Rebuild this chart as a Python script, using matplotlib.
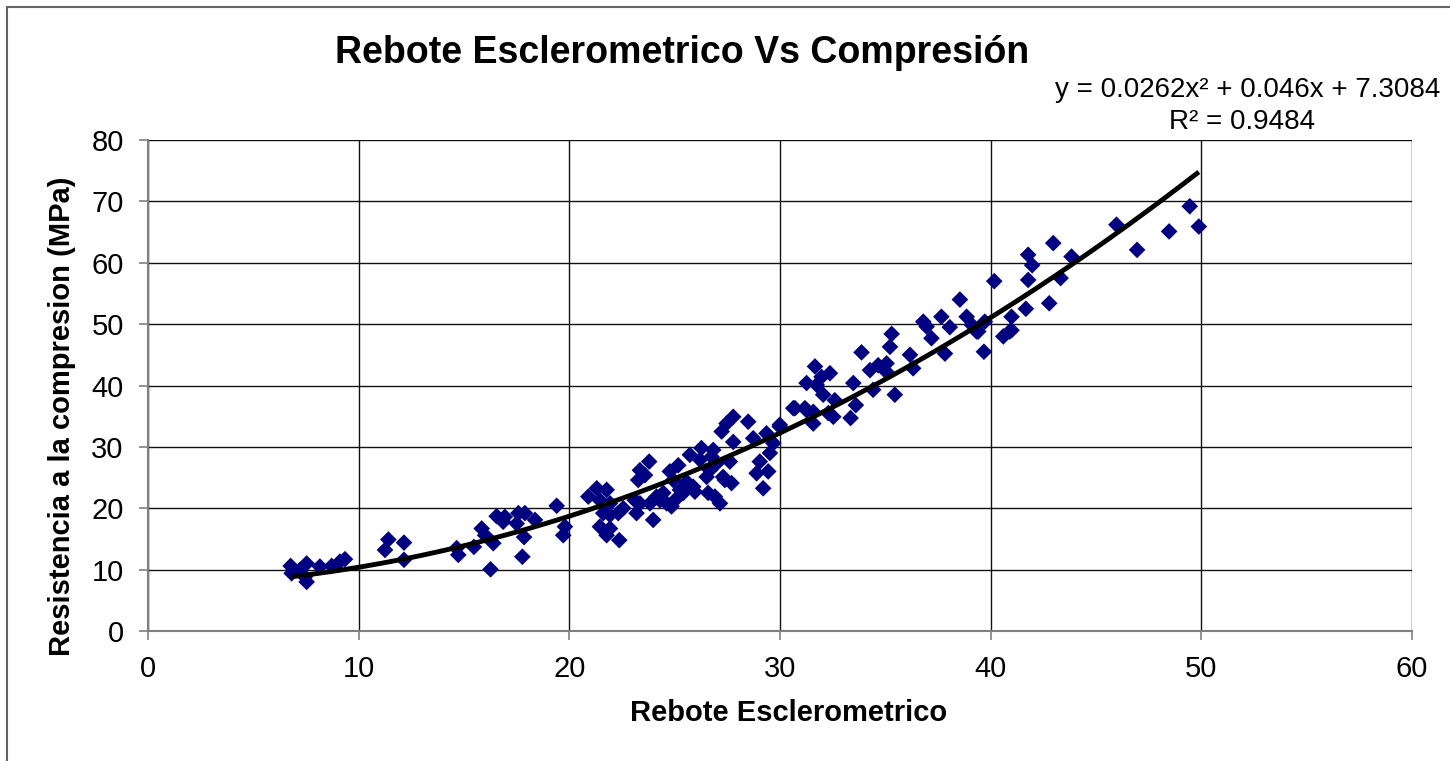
import numpy as np
import matplotlib
matplotlib.use("Agg")
import matplotlib.pyplot as plt
from matplotlib.lines import Line2D

plt.rcParams['font.family'] = ['Liberation Sans', 'DejaVu Sans']

# Rebote esclerometrico (x) and compressive strength in MPa (y)
rebote = [6.77, 6.82, 7.53, 7.45, 7.53, 7.2, 8.16, 8.72, 9.11, 9.35,
          11.41, 11.25, 12.15, 12.15, 14.65, 14.73, 15.47, 15.84, 16.0, 16.39,
          16.26, 16.55, 16.94, 16.86, 17.58, 17.89, 17.5, 18.37, 17.85, 17.77,
          19.4, 19.79, 19.71,
          20.9, 21.3, 21.77, 21.45, 21.93, 21.61, 21.93, 21.45, 21.93, 21.77,
          22.37, 22.32, 22.56, 23.19, 23.35, 23.11, 23.35, 23.79, 23.59, 23.27,
          23.98, 23.83, 24.14, 24.3, 24.62, 24.46, 24.77, 25.17, 24.93, 25.25,
          25.41, 25.01, 24.85, 25.57, 25.72, 25.88, 25.96, 26.27, 26.2, 26.52,
          26.59, 26.83, 26.75, 26.99, 26.91, 27.15, 26.67, 27.3, 27.62, 27.38,
          27.7, 27.23, 27.46, 27.78, 27.78, 28.49, 28.73, 28.89, 29.2, 29.04,
          29.44, 29.52, 29.68, 29.36, 29.99, 30.71, 31.26,
          29.99, 30.63, 31.18, 31.26, 31.66, 31.74, 31.97, 32.37, 32.05, 31.58,
          31.58, 32.6, 32.53, 32.29, 33.48, 33.6, 33.35, 33.87, 34.27, 34.42,
          34.66, 35.06, 35.06, 35.22, 35.3, 35.45, 36.17, 36.32, 37.19, 37.83,
          39.68, 39.33, 40.6, 40.9,
          36.8, 36.96, 37.66, 38.06, 38.54, 38.86, 39.1, 39.41, 39.72, 40.17,
          40.99, 40.99, 41.67, 41.78, 41.78, 41.97, 42.78, 42.97, 43.32, 43.84,
          45.97, 46.95, 48.47, 49.45, 49.88]
resistencia = [10.6, 9.4, 11.0, 8.85, 8.0, 9.9, 10.5, 10.6, 11.3, 11.7,
               14.9, 13.2, 14.4, 11.6, 13.5, 12.4, 13.7, 16.7, 15.6, 14.3,
               10.05, 18.7, 18.6, 17.8, 19.2, 19.2, 17.5, 18.1, 15.3, 12.1,
               20.4, 17.0, 15.6,
               21.9, 23.25, 23.0, 21.3, 20.8, 19.2, 18.9, 17.0, 16.7, 15.6,
               14.8, 19.2, 20.0, 19.2, 20.8, 21.3, 26.2, 27.6, 25.4, 24.6,
               18.1, 20.8, 21.9, 21.3, 20.8, 22.5, 26.0, 27.0, 24.6, 23.0,
               22.5, 21.3, 20.3, 24.3, 28.7, 23.5, 22.7, 29.8, 27.9, 25.1,
               22.5, 29.5, 28.4, 27.3, 21.9, 20.8, 26.2, 25.1, 27.6, 24.6,
               24.1, 32.5, 33.8, 34.9, 30.8, 34.1, 31.4, 25.7, 23.25, 27.6,
               26.0, 29.0, 30.6, 32.2, 33.6, 36.3, 36.0,
               33.3, 36.3, 36.3, 40.4, 43.1, 40.1, 41.4, 42.0, 38.5, 35.7,
               33.8, 37.6, 34.9, 35.5, 40.4, 36.8, 34.7, 45.4, 42.5, 39.3,
               43.3, 43.6, 42.2, 46.3, 48.4, 38.5, 45.0, 42.8, 47.7, 45.2,
               45.5, 48.8, 48.0, 48.8,
               50.4, 49.6, 51.2, 49.5, 54.0, 51.2, 49.9, 48.8, 50.4, 57.0,
               49.0, 51.2, 52.5, 57.2, 61.3, 59.6, 53.4, 63.2, 57.5, 61.0,
               66.2, 62.1, 65.1, 69.2, 65.9]
# Trendline coefficients (as printed on the chart)
coef = [0.0262, 0.046, 7.3084]
r2 = 0.9484

x_ticks = [0, 10, 20, 30, 40, 50, 60]
y_ticks = [0, 10, 20, 30, 40, 50, 60, 70, 80]

fig = plt.figure(figsize=(14.5, 7.61), dpi=100)
ax = fig.add_axes([148/1450, 1 - 631/761, (1412-148)/1450, (631-140)/761])

ax.scatter(rebote, resistencia, marker='D', s=72, color='#000080',
           edgecolors='none', zorder=3)

xs = np.linspace(min(rebote), max(rebote), 300)
ax.plot(xs, np.polyval(coef, xs), color='black', lw=3.5, zorder=4,
        solid_capstyle='butt')

ax.set_xlim(0, 60)
ax.set_ylim(0, 80)
ax.set_xticks(x_ticks)
ax.set_yticks(y_ticks)
ax.grid(True, color='#111111', lw=1.0, zorder=0)
ax.set_axisbelow(True)
for s in ['top', 'right']:
    ax.spines[s].set_visible(False)
for s in ['left', 'bottom']:
    ax.spines[s].set_color('#808080')
    ax.spines[s].set_linewidth(1.5)
ax.tick_params(axis='both', direction='out', length=6.5, width=1.2,
               color='#808080', labelsize=21, pad=11)

ax.set_xlabel('Rebote Esclerometrico', fontsize=21, fontweight='bold')
ax.xaxis.set_label_coords((789-148)/1264, (631-713)/491)
ax.xaxis.label.set_va('center')
ax.set_ylabel('Resistencia a la compresion (MPa)', fontsize=21,
              fontweight='bold')
ax.yaxis.set_label_coords((62-148)/1264, (631-416)/491)
ax.yaxis.label.set_va('center')

fig.text(682/1450, 1 - 53/761, 'Rebote Esclerometrico Vs Compresión',
         fontsize=27, fontweight='bold', ha='center', va='center')
fig.text(1440/1450, 1 - 90/761, 'y = 0.0262x² + 0.046x + 7.3084',
         fontsize=20, ha='right', va='center')
fig.text(1242/1450, 1 - 122/761, 'R² = %.4f' % r2,
         fontsize=20, ha='center', va='center')

fig.add_artist(Line2D([7/1450, 1], [1 - 7/761, 1 - 7/761], color='#666666', lw=1.5))
fig.add_artist(Line2D([7/1450, 7/1450], [0, 1 - 7/761], color='#666666', lw=1.5))

fig.savefig('out.png', dpi=100)
